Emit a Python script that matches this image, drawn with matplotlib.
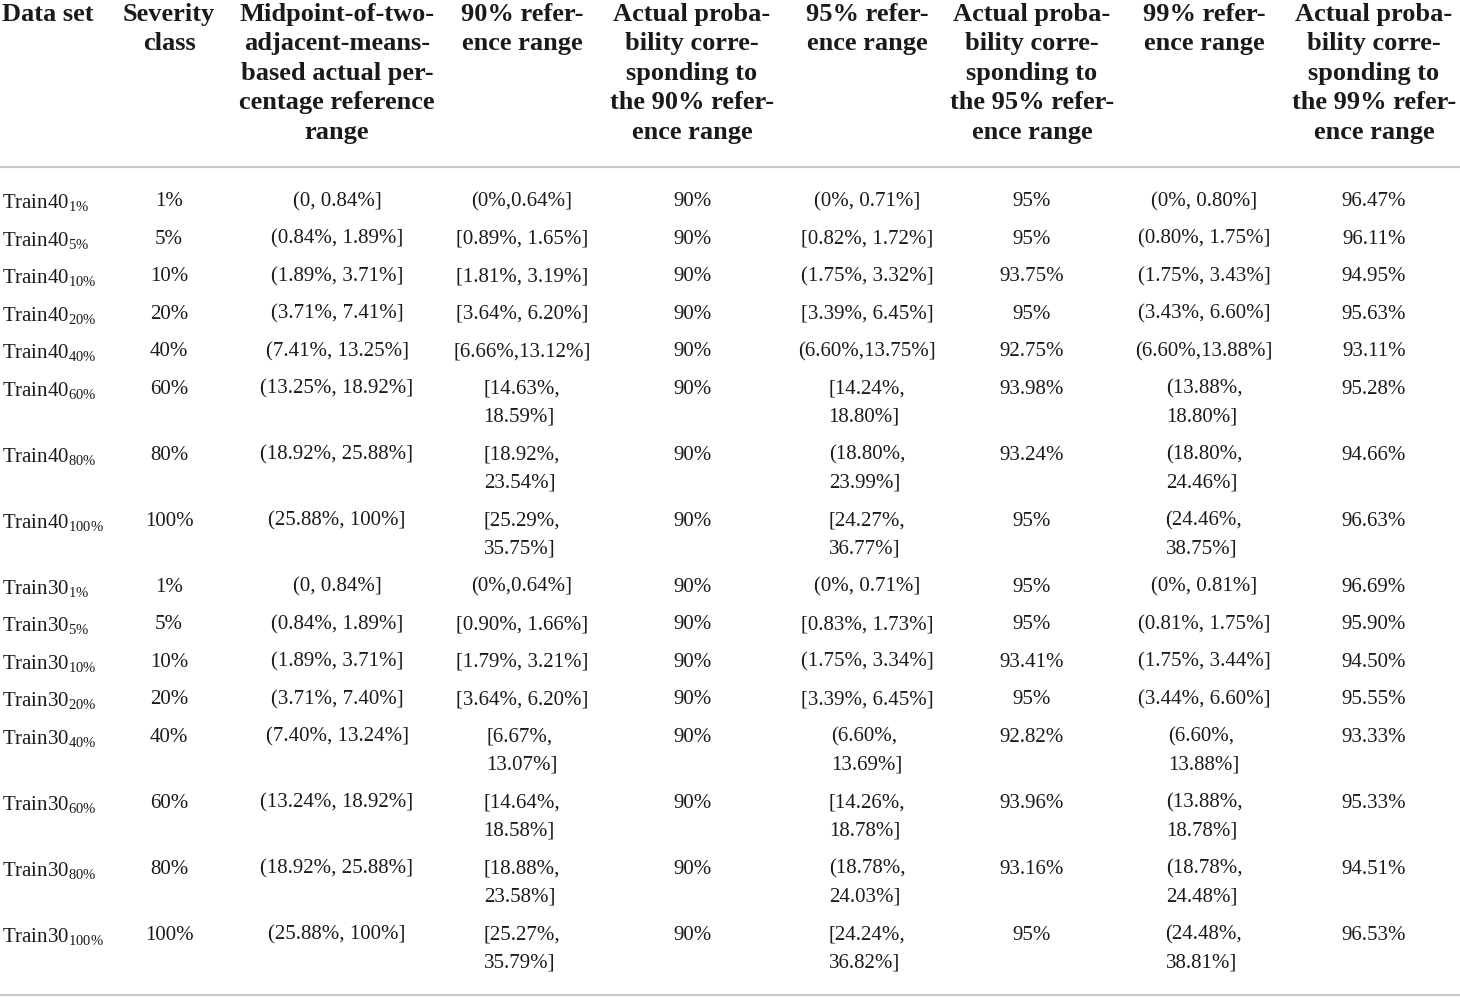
import matplotlib
matplotlib.use("Agg")
import matplotlib.pyplot as plt

# ----------------------------------
# table content
# ----------------------------------
headers = [
    "Data set",
    "Severity\nclass",
    "Midpoint-of-two-\nadjacent-means-\nbased actual per-\ncentage reference\nrange",
    "90% refer-\nence range",
    "Actual proba-\nbility corre-\nsponding to\nthe 90% refer-\nence range",
    "95% refer-\nence range",
    "Actual proba-\nbility corre-\nsponding to\nthe 95% refer-\nence range",
    "99% refer-\nence range",
    "Actual proba-\nbility corre-\nsponding to\nthe 99% refer-\nence range",
]

train_sets = ["Train40"] * 8 + ["Train30"] * 8
severity = ["1%", "5%", "10%", "20%", "40%", "60%", "80%", "100%"] * 2

midpoint = ["(0, 0.84%]", "(0.84%, 1.89%]", "(1.89%, 3.71%]", "(3.71%, 7.41%]",
            "(7.41%, 13.25%]", "(13.25%, 18.92%]", "(18.92%, 25.88%]", "(25.88%, 100%]",
            "(0, 0.84%]", "(0.84%, 1.89%]", "(1.89%, 3.71%]", "(3.71%, 7.40%]",
            "(7.40%, 13.24%]", "(13.24%, 18.92%]", "(18.92%, 25.88%]", "(25.88%, 100%]"]

ref90 = ["(0%,0.64%]", "[0.89%, 1.65%]", "[1.81%, 3.19%]", "[3.64%, 6.20%]",
         "[6.66%,13.12%]", "[14.63%, 18.59%]", "[18.92%, 23.54%]", "[25.29%, 35.75%]",
         "(0%,0.64%]", "[0.90%, 1.66%]", "[1.79%, 3.21%]", "[3.64%, 6.20%]",
         "[6.67%, 13.07%]", "[14.64%, 18.58%]", "[18.88%, 23.58%]", "[25.27%, 35.79%]"]

act90 = ["90%"] * 16

ref95 = ["(0%, 0.71%]", "[0.82%, 1.72%]", "(1.75%, 3.32%]", "[3.39%, 6.45%]",
         "(6.60%,13.75%]", "[14.24%, 18.80%]", "(18.80%, 23.99%]", "[24.27%, 36.77%]",
         "(0%, 0.71%]", "[0.83%, 1.73%]", "(1.75%, 3.34%]", "[3.39%, 6.45%]",
         "(6.60%, 13.69%]", "[14.26%, 18.78%]", "(18.78%, 24.03%]", "[24.24%, 36.82%]"]

act95 = ["95%", "95%", "93.75%", "95%", "92.75%", "93.98%", "93.24%", "95%",
         "95%", "95%", "93.41%", "95%", "92.82%", "93.96%", "93.16%", "95%"]

ref99 = ["(0%, 0.80%]", "(0.80%, 1.75%]", "(1.75%, 3.43%]", "(3.43%, 6.60%]",
         "(6.60%,13.88%]", "(13.88%, 18.80%]", "(18.80%, 24.46%]", "(24.46%, 38.75%]",
         "(0%, 0.81%]", "(0.81%, 1.75%]", "(1.75%, 3.44%]", "(3.44%, 6.60%]",
         "(6.60%, 13.88%]", "(13.88%, 18.78%]", "(18.78%, 24.48%]", "(24.48%, 38.81%]"]

act99 = ["96.47%", "96.11%", "94.95%", "95.63%", "93.11%", "95.28%", "94.66%", "96.63%",
         "96.69%", "95.90%", "94.50%", "95.55%", "93.33%", "95.33%", "94.51%", "96.53%"]

# ----------------------------------
# layout
# ----------------------------------
W, H = 1460, 997
col_x = [2, 169, 337, 522, 692, 867, 1032, 1204, 1374]
wrap_cols = {3, 5, 7}          # narrow reference-range columns
ink = "#1a1a1a"
rule = "#c9c9c9"

plt.rcParams["mathtext.fontset"] = "custom"
plt.rcParams["mathtext.rm"] = "Liberation Serif"
plt.rcParams["mathtext.it"] = "Liberation Serif:italic"
plt.rcParams["mathtext.bf"] = "Liberation Serif:bold"

fig = plt.figure(figsize=(W / 100, H / 100), dpi=100)
ax = fig.add_axes([0, 0, 1, 1])
ax.set_xlim(0, W)
ax.set_ylim(H, 0)
ax.axis("off")


def wrap(s):
    # long ranges with a space break onto two lines in the narrow columns
    if len(s) >= 15 and ", " in s:
        a, b = s.split(", ", 1)
        return a + ",\n" + b
    return s


# header
for i, h in enumerate(headers):
    ax.text(col_x[i], 3, h, ha="left" if i == 0 else "center", va="top",
            multialignment="center", fontsize=19, fontweight="bold",
            family="Liberation Serif", color=ink, linespacing=1.36)

ax.axhline(167, color=rule, lw=1.6)
ax.axhline(995, color=rule, lw=1.6)

# body
y = 192
for r in range(len(severity)):
    sev_tex = severity[r].replace("%", r"\%")
    name = train_sets[r] + r"$_{\mathrm{" + sev_tex + "}}$"
    cells = [name, severity[r], midpoint[r], ref90[r], act90[r],
             ref95[r], act95[r], ref99[r], act99[r]]
    nlines = 1
    for c, s in enumerate(cells):
        if c in wrap_cols:
            s = wrap(s)
            nlines = max(nlines, s.count("\n") + 1)
        ax.text(col_x[c], y, s, ha="left" if c == 0 else "center", va="top",
                multialignment="left", fontsize=15, family="Liberation Serif",
                color=ink, linespacing=1.65)
    y += 37.5 if nlines == 1 else 66

fig.savefig("out.png", dpi=100)
